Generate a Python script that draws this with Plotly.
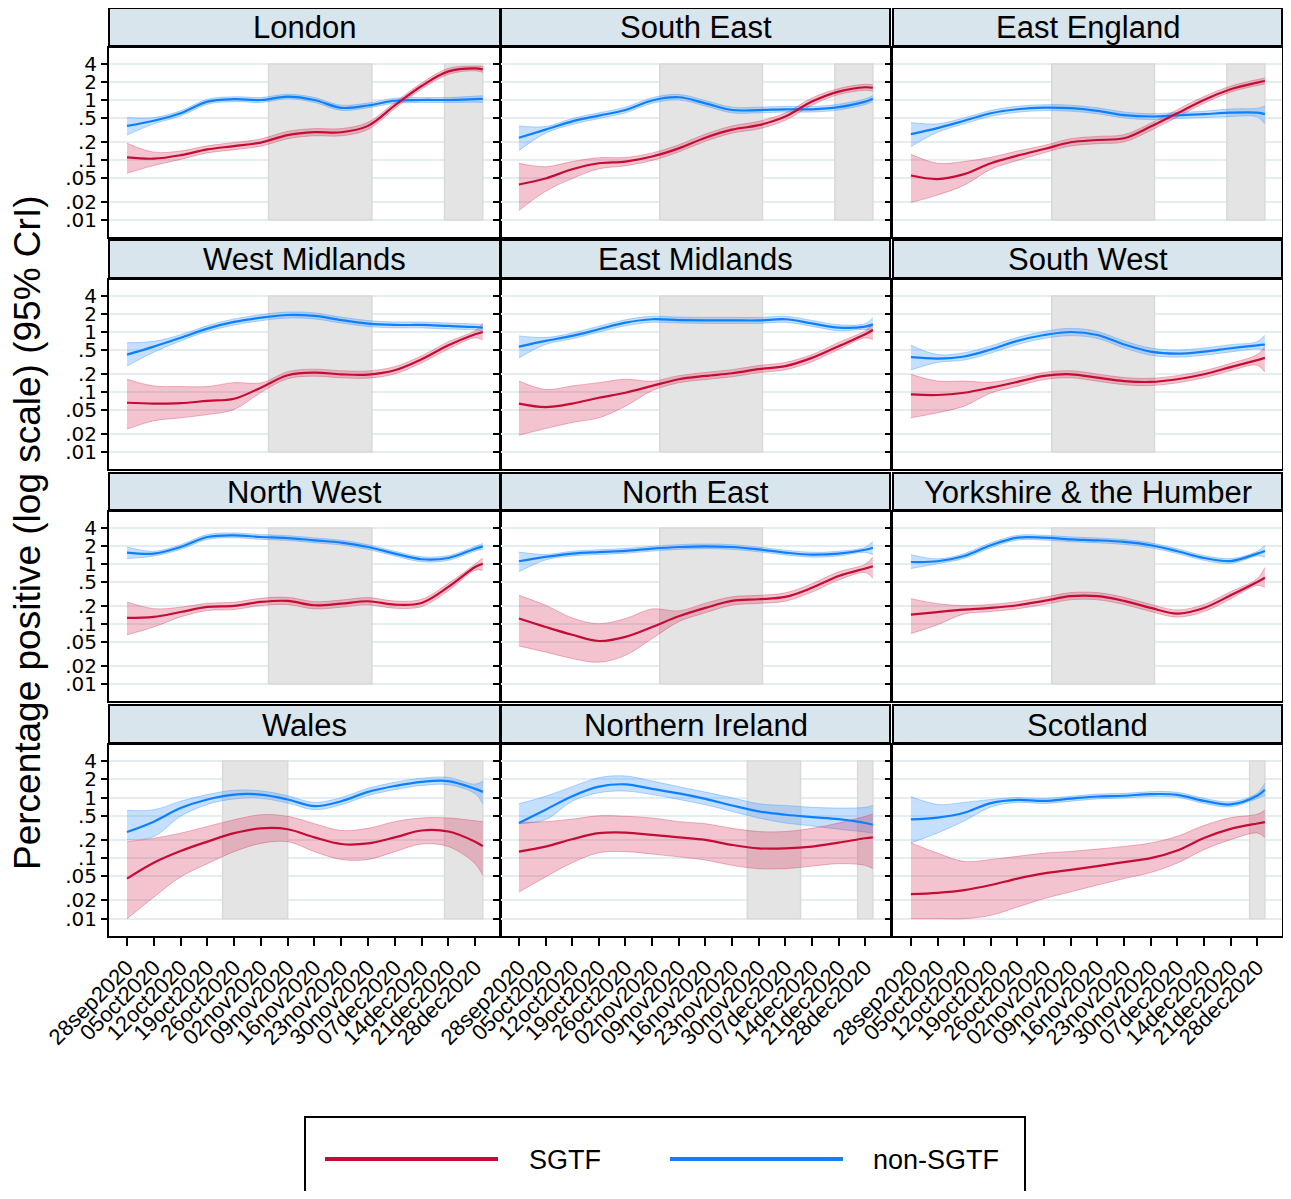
import plotly.graph_objects as go

# ---------------- data ----------------
dates = ["2020-09-28", "2020-10-05", "2020-10-12", "2020-10-19", "2020-10-26",
         "2020-11-02", "2020-11-09", "2020-11-16", "2020-11-23", "2020-11-30",
         "2020-12-07", "2020-12-14", "2020-12-21", "2020-12-28", "2020-12-30"]
tick_dates = dates[:14]
tick_labels = ["28sep2020", "05oct2020", "12oct2020", "19oct2020", "26oct2020",
               "02nov2020", "09nov2020", "16nov2020", "23nov2020", "30nov2020",
               "07dec2020", "14dec2020", "21dec2020", "28dec2020"]
y_tickvals = [0.01, 0.02, 0.05, 0.1, 0.2, 0.5, 1, 2, 4]
y_ticklabels = [".01", ".02", ".05", ".1", ".2", ".5", "1", "2", "4"]

regions = ["London", "South East", "East England", "West Midlands", "East Midlands",
           "South West", "North West", "North East", "Yorkshire & the Humber",
           "Wales", "Northern Ireland", "Scotland"]

# restriction periods (grey shading)
shade_england_tier4 = [("2020-11-04", "2020-12-01"), ("2020-12-20", "2020-12-30")]
shade_england = [("2020-11-04", "2020-12-01")]
shade_wales = [("2020-10-23", "2020-11-09"), ("2020-12-20", "2020-12-30")]
shade_ni = [("2020-11-27", "2020-12-11"), ("2020-12-26", "2020-12-30")]
shade_scotland = [("2020-12-26", "2020-12-30")]
shade_low, shade_high = 0.01, 4

# London
lon_s = [0.11, 0.105, 0.12, 0.15, 0.17, 0.195, 0.26, 0.29, 0.29, 0.37, 0.81, 1.71, 3.0, 3.37, 3.24]
lon_s_lo = [0.06, 0.081, 0.102, 0.131, 0.148, 0.17, 0.226, 0.253, 0.253, 0.322, 0.72, 1.52, 2.67, 3.07, 2.89]
lon_s_hi = [0.19, 0.135, 0.141, 0.172, 0.195, 0.224, 0.3, 0.333, 0.333, 0.425, 0.91, 1.92, 3.37, 3.69, 3.64]
lon_n = [0.37, 0.45, 0.60, 0.94, 1.03, 1.0, 1.14, 1.0, 0.74, 0.81, 0.97, 1.0, 1.0, 1.03, 1.04]
lon_n_lo = [0.26, 0.40, 0.54, 0.85, 0.94, 0.91, 1.04, 0.91, 0.67, 0.74, 0.88, 0.91, 0.91, 0.92, 0.91]
lon_n_hi = [0.51, 0.51, 0.66, 1.03, 1.13, 1.10, 1.25, 1.10, 0.82, 0.89, 1.07, 1.10, 1.10, 1.16, 1.18]
# South East
se_s = [0.039, 0.049, 0.07, 0.088, 0.094, 0.114, 0.156, 0.235, 0.32, 0.38, 0.53, 0.94, 1.38, 1.63, 1.6]
se_s_lo = [0.0143, 0.030, 0.049, 0.071, 0.08, 0.098, 0.136, 0.205, 0.28, 0.33, 0.46, 0.82, 1.23, 1.45, 1.40]
se_s_hi = [0.088, 0.077, 0.094, 0.109, 0.11, 0.131, 0.179, 0.27, 0.37, 0.44, 0.61, 1.08, 1.55, 1.83, 1.80]
se_n = [0.235, 0.32, 0.44, 0.55, 0.68, 0.98, 1.11, 0.88, 0.68, 0.68, 0.70, 0.70, 0.76, 0.94, 1.05]
se_n_lo = [0.143, 0.28, 0.39, 0.49, 0.61, 0.88, 1.0, 0.79, 0.61, 0.61, 0.63, 0.63, 0.68, 0.84, 0.94]
se_n_hi = [0.37, 0.36, 0.49, 0.61, 0.76, 1.09, 1.24, 0.98, 0.76, 0.76, 0.78, 0.78, 0.85, 1.05, 1.18]
# East England
ee_s = [0.055, 0.048, 0.058, 0.088, 0.118, 0.152, 0.197, 0.215, 0.23, 0.36, 0.60, 1.0, 1.51, 1.95, 2.07]
ee_s_lo = [0.0195, 0.026, 0.038, 0.07, 0.098, 0.132, 0.171, 0.187, 0.20, 0.31, 0.52, 0.88, 1.35, 1.74, 1.84]
ee_s_hi = [0.124, 0.088, 0.094, 0.111, 0.141, 0.175, 0.226, 0.247, 0.264, 0.41, 0.69, 1.14, 1.70, 2.19, 2.32]
ee_n = [0.27, 0.34, 0.45, 0.60, 0.70, 0.745, 0.73, 0.66, 0.56, 0.53, 0.555, 0.58, 0.615, 0.615, 0.58]
ee_n_lo = [0.167, 0.29, 0.40, 0.535, 0.625, 0.665, 0.65, 0.59, 0.50, 0.47, 0.49, 0.51, 0.53, 0.52, 0.40]
ee_n_hi = [0.42, 0.40, 0.505, 0.67, 0.785, 0.835, 0.82, 0.74, 0.63, 0.59, 0.62, 0.65, 0.71, 0.73, 0.79]
# West Midlands
wm_s = [0.066, 0.064, 0.065, 0.071, 0.077, 0.118, 0.19, 0.21, 0.197, 0.195, 0.23, 0.35, 0.60, 0.915, 1.0]
wm_s_lo = [0.024, 0.033, 0.037, 0.042, 0.051, 0.098, 0.166, 0.183, 0.172, 0.17, 0.20, 0.305, 0.52, 0.80, 0.74]
wm_s_hi = [0.163, 0.126, 0.123, 0.123, 0.143, 0.141, 0.218, 0.24, 0.226, 0.224, 0.264, 0.40, 0.69, 1.05, 1.4]
wm_n = [0.42, 0.57, 0.80, 1.14, 1.47, 1.73, 1.92, 1.85, 1.58, 1.38, 1.31, 1.31, 1.26, 1.21, 1.18]
wm_n_lo = [0.27, 0.46, 0.71, 1.02, 1.31, 1.54, 1.71, 1.65, 1.41, 1.23, 1.17, 1.17, 1.12, 1.08, 1.05]
wm_n_hi = [0.66, 0.70, 0.90, 1.28, 1.65, 1.94, 2.15, 2.08, 1.77, 1.55, 1.47, 1.47, 1.41, 1.36, 1.33]
# East Midlands
em_s = [0.064, 0.056, 0.064, 0.08, 0.097, 0.126, 0.163, 0.185, 0.205, 0.24, 0.27, 0.37, 0.58, 0.915, 1.08]
em_s_lo = [0.019, 0.0245, 0.031, 0.037, 0.058, 0.105, 0.142, 0.161, 0.179, 0.209, 0.235, 0.32, 0.51, 0.80, 0.75]
em_s_hi = [0.152, 0.11, 0.126, 0.143, 0.163, 0.151, 0.187, 0.212, 0.235, 0.276, 0.31, 0.42, 0.67, 1.05, 1.34]
em_n = [0.57, 0.71, 0.86, 1.11, 1.43, 1.63, 1.58, 1.56, 1.56, 1.56, 1.63, 1.39, 1.18, 1.23, 1.34]
em_n_lo = [0.37, 0.62, 0.77, 0.99, 1.27, 1.45, 1.41, 1.39, 1.39, 1.39, 1.45, 1.24, 1.05, 1.10, 1.04]
em_n_hi = [0.86, 0.81, 0.96, 1.25, 1.60, 1.83, 1.77, 1.75, 1.75, 1.75, 1.83, 1.56, 1.32, 1.38, 1.73]
# South West
sw_s = [0.091, 0.089, 0.097, 0.118, 0.147, 0.185, 0.197, 0.173, 0.152, 0.147, 0.163, 0.197, 0.26, 0.34, 0.37]
sw_s_lo = [0.037, 0.045, 0.058, 0.096, 0.125, 0.161, 0.172, 0.151, 0.132, 0.128, 0.142, 0.172, 0.226, 0.28, 0.215]
sw_s_hi = [0.197, 0.152, 0.152, 0.145, 0.173, 0.212, 0.226, 0.199, 0.174, 0.169, 0.187, 0.226, 0.30, 0.42, 0.57]
sw_n = [0.38, 0.36, 0.39, 0.51, 0.71, 0.89, 1.0, 0.89, 0.62, 0.47, 0.435, 0.47, 0.535, 0.60, 0.615]
sw_n_lo = [0.233, 0.31, 0.34, 0.445, 0.62, 0.78, 0.87, 0.78, 0.54, 0.41, 0.38, 0.41, 0.465, 0.52, 0.50]
sw_n_hi = [0.60, 0.42, 0.45, 0.585, 0.815, 1.02, 1.15, 1.02, 0.71, 0.54, 0.50, 0.54, 0.615, 0.69, 0.88]
# North West
nw_s = [0.126, 0.131, 0.158, 0.192, 0.2, 0.233, 0.242, 0.205, 0.218, 0.239, 0.21, 0.224, 0.414, 0.89, 1.01]
nw_s_lo = [0.066, 0.089, 0.131, 0.167, 0.174, 0.203, 0.21, 0.178, 0.19, 0.208, 0.183, 0.195, 0.36, 0.79, 0.78]
nw_s_hi = [0.233, 0.18, 0.19, 0.221, 0.23, 0.268, 0.278, 0.235, 0.25, 0.275, 0.241, 0.258, 0.475, 1.0, 1.26]
nw_n = [1.55, 1.49, 1.92, 2.82, 3.0, 2.82, 2.71, 2.48, 2.27, 1.92, 1.49, 1.2, 1.26, 1.8, 1.97]
nw_n_lo = [1.23, 1.36, 1.75, 2.57, 2.74, 2.57, 2.47, 2.26, 2.07, 1.75, 1.36, 1.09, 1.15, 1.64, 1.75]
nw_n_hi = [1.92, 1.63, 2.10, 3.09, 3.29, 3.09, 2.97, 2.72, 2.49, 2.1, 1.63, 1.32, 1.38, 1.97, 2.2]
# North East
ne_s = [0.123, 0.089, 0.066, 0.052, 0.061, 0.089, 0.134, 0.185, 0.242, 0.258, 0.282, 0.4, 0.63, 0.84, 0.915]
ne_s_lo = [0.043, 0.034, 0.0265, 0.023, 0.03, 0.057, 0.109, 0.154, 0.206, 0.22, 0.24, 0.34, 0.54, 0.72, 0.58]
ne_s_hi = [0.30, 0.205, 0.126, 0.101, 0.123, 0.178, 0.165, 0.222, 0.284, 0.30, 0.33, 0.47, 0.74, 0.99, 1.31]
ne_n = [1.11, 1.31, 1.49, 1.58, 1.65, 1.8, 1.92, 1.97, 1.92, 1.75, 1.55, 1.43, 1.49, 1.73, 1.87]
ne_n_lo = [0.74, 1.17, 1.36, 1.44, 1.51, 1.64, 1.75, 1.80, 1.75, 1.6, 1.41, 1.3, 1.36, 1.56, 1.43]
ne_n_hi = [1.58, 1.44, 1.63, 1.73, 1.81, 1.97, 2.1, 2.16, 2.1, 1.92, 1.70, 1.57, 1.63, 1.9, 2.39]
# Yorkshire & the Humber
yh_s = [0.143, 0.158, 0.173, 0.185, 0.205, 0.242, 0.29, 0.29, 0.242, 0.185, 0.149, 0.185, 0.30, 0.50, 0.59]
yh_s_lo = [0.069, 0.097, 0.147, 0.161, 0.179, 0.211, 0.253, 0.253, 0.211, 0.161, 0.13, 0.161, 0.261, 0.44, 0.41]
yh_s_hi = [0.264, 0.218, 0.203, 0.212, 0.235, 0.278, 0.333, 0.333, 0.278, 0.212, 0.171, 0.212, 0.345, 0.57, 0.87]
yh_n = [1.08, 1.11, 1.36, 2.05, 2.75, 2.75, 2.58, 2.48, 2.33, 2.05, 1.63, 1.26, 1.12, 1.49, 1.65]
yh_n_lo = [0.84, 1.01, 1.24, 1.87, 2.51, 2.51, 2.35, 2.26, 2.12, 1.87, 1.49, 1.15, 1.02, 1.36, 1.31]
yh_n_hi = [1.43, 1.22, 1.49, 2.25, 3.01, 3.01, 2.83, 2.72, 2.55, 2.25, 1.79, 1.38, 1.23, 1.63, 2.05]
# Wales
wa_s = [0.046, 0.084, 0.131, 0.187, 0.258, 0.31, 0.30, 0.22, 0.171, 0.175, 0.22, 0.286, 0.275, 0.187, 0.158]
wa_s_lo = [0.01, 0.0227, 0.049, 0.081, 0.128, 0.175, 0.187, 0.128, 0.095, 0.095, 0.128, 0.171, 0.155, 0.081, 0.052]
wa_s_hi = [0.187, 0.213, 0.258, 0.333, 0.43, 0.52, 0.49, 0.37, 0.286, 0.31, 0.40, 0.46, 0.46, 0.414, 0.40]
wa_n = [0.27, 0.40, 0.67, 0.93, 1.12, 1.12, 0.93, 0.72, 0.87, 1.24, 1.55, 1.82, 1.87, 1.39, 1.24]
wa_n_lo = [0.20, 0.227, 0.49, 0.77, 0.95, 0.97, 0.81, 0.63, 0.76, 1.08, 1.35, 1.58, 1.63, 1.16, 0.79]
wa_n_hi = [0.615, 0.63, 0.87, 1.12, 1.32, 1.29, 1.07, 0.83, 1.0, 1.42, 1.78, 2.09, 2.15, 1.66, 1.87]
# Northern Ireland
ni_s = [0.128, 0.155, 0.205, 0.258, 0.264, 0.242, 0.22, 0.2, 0.165, 0.145, 0.145, 0.155, 0.18, 0.213, 0.22]
ni_s_lo = [0.0275, 0.049, 0.084, 0.123, 0.128, 0.117, 0.105, 0.093, 0.076, 0.067, 0.067, 0.074, 0.081, 0.076, 0.067]
ni_s_hi = [0.39, 0.40, 0.44, 0.5, 0.49, 0.46, 0.40, 0.37, 0.31, 0.275, 0.275, 0.31, 0.38, 0.49, 0.535]
ni_n = [0.38, 0.63, 1.05, 1.51, 1.65, 1.39, 1.17, 0.95, 0.74, 0.59, 0.52, 0.476, 0.44, 0.38, 0.355]
ni_n_lo = [0.37, 0.43, 0.87, 1.2, 1.28, 1.12, 0.93, 0.76, 0.59, 0.46, 0.38, 0.34, 0.30, 0.27, 0.26]
ni_n_hi = [0.79, 1.05, 1.51, 2.13, 2.27, 1.87, 1.51, 1.23, 0.99, 0.79, 0.74, 0.69, 0.67, 0.69, 0.74]
# Scotland
sc_s = [0.0255, 0.0268, 0.0297, 0.036, 0.046, 0.056, 0.064, 0.074, 0.086, 0.1, 0.134, 0.215, 0.304, 0.373, 0.393]
sc_s_lo = [0.01, 0.01, 0.01, 0.0114, 0.0156, 0.0215, 0.0278, 0.036, 0.046, 0.058, 0.083, 0.138, 0.202, 0.26, 0.22]
sc_s_hi = [0.178, 0.121, 0.088, 0.095, 0.107, 0.121, 0.129, 0.141, 0.156, 0.178, 0.23, 0.346, 0.465, 0.53, 0.62]
sc_n = [0.435, 0.465, 0.56, 0.81, 0.915, 0.88, 0.96, 1.04, 1.07, 1.14, 1.11, 0.88, 0.77, 1.07, 1.34]
sc_n_lo = [0.178, 0.26, 0.41, 0.70, 0.83, 0.80, 0.87, 0.95, 0.98, 1.04, 1.01, 0.80, 0.70, 0.96, 1.07]
sc_n_hi = [1.04, 0.77, 0.83, 0.93, 1.0, 0.97, 1.05, 1.14, 1.17, 1.25, 1.22, 0.97, 0.85, 1.18, 1.73]

panels = [
    (lon_s, lon_s_lo, lon_s_hi, lon_n, lon_n_lo, lon_n_hi, shade_england_tier4),
    (se_s, se_s_lo, se_s_hi, se_n, se_n_lo, se_n_hi, shade_england_tier4),
    (ee_s, ee_s_lo, ee_s_hi, ee_n, ee_n_lo, ee_n_hi, shade_england_tier4),
    (wm_s, wm_s_lo, wm_s_hi, wm_n, wm_n_lo, wm_n_hi, shade_england),
    (em_s, em_s_lo, em_s_hi, em_n, em_n_lo, em_n_hi, shade_england),
    (sw_s, sw_s_lo, sw_s_hi, sw_n, sw_n_lo, sw_n_hi, shade_england),
    (nw_s, nw_s_lo, nw_s_hi, nw_n, nw_n_lo, nw_n_hi, shade_england),
    (ne_s, ne_s_lo, ne_s_hi, ne_n, ne_n_lo, ne_n_hi, shade_england),
    (yh_s, yh_s_lo, yh_s_hi, yh_n, yh_n_lo, yh_n_hi, shade_england),
    (wa_s, wa_s_lo, wa_s_hi, wa_n, wa_n_lo, wa_n_hi, shade_wales),
    (ni_s, ni_s_lo, ni_s_hi, ni_n, ni_n_lo, ni_n_hi, shade_ni),
    (sc_s, sc_s_lo, sc_s_hi, sc_n, sc_n_lo, sc_n_hi, shade_scotland),
]

# ---------------- style / layout ----------------
# page has an 8px body margin, so the figure is sized to fit inside the window
OFF = 8
W, H = 1291 - 2 * OFF, 1199 - 2 * OFF
FONT = "Liberation Sans, Arial, sans-serif"
RED = "rgb(196,12,52)"
BLUE = "rgb(12,128,255)"
RED_FILL = "rgba(215,60,95,0.30)"
BLUE_FILL = "rgba(60,150,255,0.30)"
RED_EDGE = "rgba(215,60,95,0.38)"
BLUE_EDGE = "rgba(60,150,255,0.38)"
GRID = "#E4EEF1"


def pxx(x):
    return (x - OFF) / W


def pyy(y):
    return 1 - (y - OFF) / H


col_px = [(109, 500), (501, 890), (893, 1282)]
row_px = [(48, 237), (280, 469), (512, 701), (745, 936)]
strip_px = [(8, 46), (240, 278), (473, 510), (705, 743)]
x_range = ["2020-09-23 07:00", "2021-01-03 12:00"]
y_range = [-2.285, 0.867]

fig = go.Figure()
layout = dict(width=W, height=H, margin=dict(l=0, r=0, t=0, b=0, autoexpand=False),
              plot_bgcolor="white", paper_bgcolor="white", showlegend=False,
              font=dict(family=FONT, color="black"))
shapes, annotations = [], []

for i, (name, pdata) in enumerate(zip(regions, panels)):
    r, c = divmod(i, 3)
    s, s_lo, s_hi, n, n_lo, n_hi, shade = pdata
    k = "" if i == 0 else str(i + 1)
    xa, ya = "x" + k, "y" + k

    # grey shading
    sx, sy = [], []
    for a, b in shade:
        sx += [a, a, b, b, a, None]
        sy += [shade_low, shade_high, shade_high, shade_low, shade_low, None]
    fig.add_trace(go.Scatter(x=sx, y=sy, mode="lines", fill="toself",
                             fillcolor="rgb(228,228,228)",
                             line=dict(color="rgb(217,217,217)", width=1.5),
                             hoverinfo="skip", xaxis=xa, yaxis=ya))
    # bands
    for lo, hi, fc, ec in [(n_lo, n_hi, BLUE_FILL, BLUE_EDGE), (s_lo, s_hi, RED_FILL, RED_EDGE)]:
        fig.add_trace(go.Scatter(x=dates, y=lo, mode="lines",
                                 line=dict(color=ec, width=1, shape="spline"),
                                 hoverinfo="skip", xaxis=xa, yaxis=ya))
        fig.add_trace(go.Scatter(x=dates, y=hi, mode="lines", fill="tonexty",
                                 fillcolor=fc,
                                 line=dict(color=ec, width=1, shape="spline"),
                                 hoverinfo="skip", xaxis=xa, yaxis=ya))
    # central lines
    fig.add_trace(go.Scatter(x=dates, y=n, mode="lines", name="non-SGTF",
                             line=dict(color=BLUE, width=2.2, shape="spline"),
                             xaxis=xa, yaxis=ya))
    fig.add_trace(go.Scatter(x=dates, y=s, mode="lines", name="SGTF",
                             line=dict(color=RED, width=2.2, shape="spline"),
                             xaxis=xa, yaxis=ya))

    x0, x1 = col_px[c]
    y0, y1 = row_px[r]
    bottom = (r == 3)
    layout["xaxis" + k] = dict(
        domain=[pxx(x0), pxx(x1)], anchor=ya, type="date", range=x_range,
        automargin=False,
        showgrid=False, zeroline=False, showline=True, mirror=True,
        linecolor="black", linewidth=2,
        tickmode="array", tickvals=tick_dates, ticktext=tick_labels,
        ticks="outside" if bottom else "", ticklen=8, tickwidth=1.5, tickcolor="black",
        showticklabels=bottom, tickangle=-45,
        tickfont=dict(family=FONT, size=22, color="black"))
    layout["yaxis" + k] = dict(
        domain=[pyy(y1), pyy(y0)], anchor=xa, type="log", range=y_range,
        automargin=False,
        showgrid=True, gridcolor=GRID, gridwidth=1.6, zeroline=False,
        showline=True, mirror=True, linecolor="black", linewidth=2,
        tickmode="array", tickvals=y_tickvals, ticktext=y_ticklabels,
        ticks="outside", ticklen=6, tickwidth=1.5, tickcolor="black",
        showticklabels=(c == 0),
        tickfont=dict(family="DejaVu Sans, sans-serif", size=20, color="black"))

    # strip header
    sy0, sy1 = strip_px[r]
    shapes.append(dict(type="rect", xref="paper", yref="paper",
                       x0=pxx(x0), x1=pxx(x1), y0=pyy(sy1), y1=pyy(sy0),
                       fillcolor="#D8E5EC", line=dict(color="black", width=2),
                       layer="above"))
    annotations.append(dict(text=name, xref="paper", yref="paper",
                            x=pxx((x0 + x1) / 2), y=pyy((sy0 + sy1) / 2 + 1),
                            xanchor="center", yanchor="middle", showarrow=False,
                            font=dict(family=FONT, size=31, color="black")))

# y axis title
annotations.append(dict(text="Percentage positive (log scale) (95% CrI)",
                        xref="paper", yref="paper", x=pxx(27), y=pyy(533),
                        xanchor="center", yanchor="middle", textangle=-90,
                        showarrow=False, font=dict(family=FONT, size=37, color="black")))

# legend box
shapes.append(dict(type="rect", xref="paper", yref="paper",
                   x0=pxx(305), x1=pxx(1025), y0=pyy(1215), y1=pyy(1117),
                   fillcolor="white", line=dict(color="black", width=2)))
for (lx0, lx1, col, tx, label) in [(325, 498, RED, 527, "SGTF"), (670, 843, BLUE, 871, "non-SGTF")]:
    shapes.append(dict(type="line", xref="paper", yref="paper",
                       x0=pxx(lx0), x1=pxx(lx1), y0=pyy(1159), y1=pyy(1159),
                       line=dict(color=col, width=4)))
    annotations.append(dict(text=label, xref="paper", yref="paper",
                            x=pxx(tx), y=pyy(1160), xanchor="left", yanchor="middle",
                            showarrow=False, font=dict(family=FONT, size=27, color="black")))

layout["shapes"] = shapes
layout["annotations"] = annotations
fig.update_layout(**layout)
fig.write_html("out.html")
